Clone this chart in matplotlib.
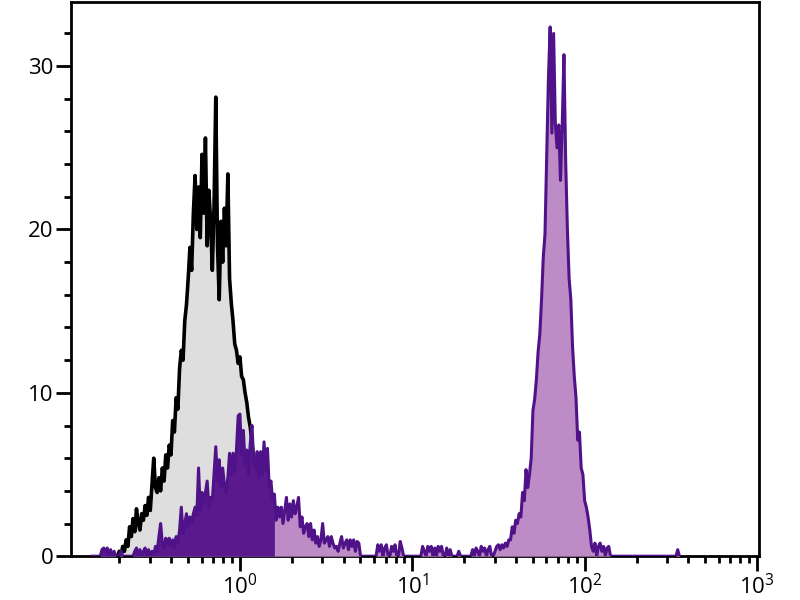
import matplotlib
matplotlib.use("Agg")
import matplotlib.pyplot as plt
from matplotlib.ticker import LogLocator, MultipleLocator, LogFormatterMathtext
import numpy as np

plt.rcParams['font.family'] = ['Open Sans', 'DejaVu Sans']
plt.rcParams['mathtext.default'] = 'regular'

# histogram channels are log10 spaced, 0.01 decade per bin
bin_step = 0.01

# isotype control (grey fill, black outline)
iso_start = -0.72
iso_counts = [
    0, 0, 0.3, 0, 0.6, 0.3, 1.0, 0.6, 1.8, 1.2,
    2.3, 1.5, 2.9, 2.0, 1.6, 2.6, 2.2, 3.1, 2.5, 3.6,
    2.8, 4.4, 6.0, 4.2, 3.9, 4.8, 4.0, 5.4, 4.6, 6.2,
    5.4, 6.8, 6.2, 8.3, 7.6, 9.7, 9.0, 11.5, 12.6, 12.0,
    14.4, 15.4, 17.0, 18.9, 17.5, 21.0, 23.3, 20.0, 22.6, 19.5,
    24.6, 21.0, 25.6, 19.0, 22.4, 20.5, 17.5, 21.5, 28.1, 19.0,
    15.7, 20.5, 18.0, 21.3, 19.0, 23.4, 17.0, 15.5, 14.4, 13.0,
    12.6, 11.8, 12.2, 11.0, 10.8, 10.0, 9.4, 8.5, 7.9, 7.0,
    5.9, 5.2, 4.2, 4.6, 3.2, 2.6, 2.2, 1.5, 1.0, 0.4,
    0,
]

# stained sample (purple)
stain_start = -0.86
stain_counts = [
    0, 0, 0, 0, 0, 0, 0.4, 0.5, 0.3, 0.5,
    0, 0.4, 0, 0.3, 0, 0, 0, 0.3, 0, 0,
    0, 0, 0, 0, 0, 0.3, 0.5, 0, 0.4, 0,
    0.3, 0.5, 0, 0.4, 0, 0.3, 0, 0.6, 0.3, 1.2,
    2.0, 0.8, 0.5, 1.1, 0.7, 1.1, 0.6, 1.0, 0.5, 1.2,
    0.8, 1.6, 3.0, 1.4, 2.0, 2.6, 1.8, 2.4, 2.0, 2.6,
    3.0, 2.5, 5.4, 2.8, 3.9, 3.2, 3.9, 4.6, 3.0, 3.6,
    3.4, 5.0, 6.7, 4.6, 5.9, 4.2, 5.4, 4.4, 3.9, 4.8,
    6.3, 5.0, 6.3, 5.2, 6.5, 8.6, 8.7, 6.2, 7.7, 5.6,
    6.5, 5.0, 6.9, 8.0, 5.8, 5.4, 6.4, 4.8, 6.4, 5.0,
    7.0, 5.2, 6.6, 4.2, 4.6, 3.4, 3.8, 2.2, 3.0, 2.4,
    3.0, 2.0, 2.8, 3.6, 2.2, 3.2, 2.4, 3.4, 2.6, 3.0,
    3.6, 1.8, 2.4, 1.4, 1.8, 2.0, 1.2, 2.0, 1.0, 1.6,
    0.8, 1.2, 0.6, 1.0, 2.0, 0.8, 1.0, 1.2, 0.6, 1.2,
    0.8, 0.5, 0.6, 0.3, 0.8, 1.2, 0.5, 0.8, 1.0, 0.4,
    1.0, 0.6, 1.0, 0.3, 0.9, 0.8, 0, 0, 0, 0,
    0, 0, 0, 0, 0, 0, 0.7, 0.3, 0.7, 0,
    0.5, 0.7, 0, 0, 0.6, 0.3, 0.7, 0, 0, 0.9,
    0.5, 0, 0, 0, 0, 0, 0, 0, 0, 0,
    0, 0, 0.6, 0.3, 0, 0.6, 0.3, 0.6, 0, 0.5,
    0, 0.6, 0.3, 0.6, 0, 0, 0.5, 0, 0.4, 0,
    0, 0, 0, 0.3, 0, 0, 0, 0, 0, 0,
    0, 0.4, 0, 0.5, 0.3, 0, 0.6, 0.3, 0.5, 0,
    0.4, 0.6, 0, 0, 0.3, 0.6, 0.7, 0.4, 0.7, 0.5,
    0.8, 0.6, 1.0, 1.0, 1.8, 1.4, 2.2, 2.0, 2.6, 2.4,
    3.9, 3.4, 5.3, 4.2, 5.0, 6.0, 8.9, 9.6, 10.8, 12.5,
    13.6, 15.7, 18.3, 19.7, 24.6, 29.3, 32.4, 25.9, 32.0, 26.5,
    25.0, 26.4, 23.0, 26.4, 30.7, 24.2, 20.0, 17.0, 15.7, 12.8,
    11.0, 9.7, 7.1, 7.6, 5.4, 5.0, 3.4, 3.0, 2.4, 1.6,
    0.6, 0.3, 0.8, 0, 0.6, 0.8, 0.3, 0.6, 0, 0.5,
    0.6, 0, 0, 0, 0, 0, 0, 0, 0, 0,
    0, 0, 0, 0, 0, 0, 0, 0, 0, 0,
    0, 0, 0, 0, 0, 0, 0, 0, 0, 0,
    0, 0, 0, 0, 0, 0, 0, 0, 0, 0,
    0.4, 0,
]

# below this channel the sample fill looks solid dark (dense noisy outline)
dark_limit = 10 ** 0.21

grey_fill = '#dedede'
dark_purple = '#4f1289'
dark_fill = '#5a1a8e'
light_fill = '#bd8bc5'


def channels(start, counts):
    return 10 ** (start + bin_step * np.arange(len(counts)))


fig = plt.figure(figsize=(8, 6), dpi=100)
ax = fig.add_axes([0.089, 0.073, 0.86, 0.923])

x_iso = channels(iso_start, iso_counts)
y_iso = np.array(iso_counts)
ax.fill_between(x_iso, y_iso, 0, color=grey_fill, linewidth=0, zorder=1)
ax.plot(x_iso, y_iso, color='black', linewidth=2.6, zorder=2)

x_st = channels(stain_start, stain_counts)
y_st = np.array(stain_counts)
ax.fill_between(x_st, y_st, 0, color=light_fill, linewidth=0, zorder=3)
ax.fill_between(x_st, y_st, 0, where=x_st <= dark_limit,
                color=dark_fill, linewidth=0, zorder=3.5)
ax.plot(x_st, y_st, color=dark_purple, linewidth=2.2, zorder=4)

ax.set_xscale('log')
ax.set_xlim(0.105, 1030)
ax.set_ylim(0, 33.9)

ax.xaxis.set_major_locator(LogLocator(base=10))
ax.xaxis.set_minor_locator(LogLocator(base=10, subs=np.arange(2, 10)))
ax.xaxis.set_major_formatter(LogFormatterMathtext())
ax.yaxis.set_major_locator(MultipleLocator(10))
ax.yaxis.set_minor_locator(MultipleLocator(2))

for side in ['top', 'right', 'bottom', 'left']:
    ax.spines[side].set_linewidth(2)
ax.tick_params(which='major', length=11, width=2, direction='out', labelsize=16, pad=2)
ax.tick_params(which='minor', length=5, width=2, direction='out')
ax.tick_params(axis='x', which='minor', labelbottom=False)

plt.savefig('out.png', dpi=100)
